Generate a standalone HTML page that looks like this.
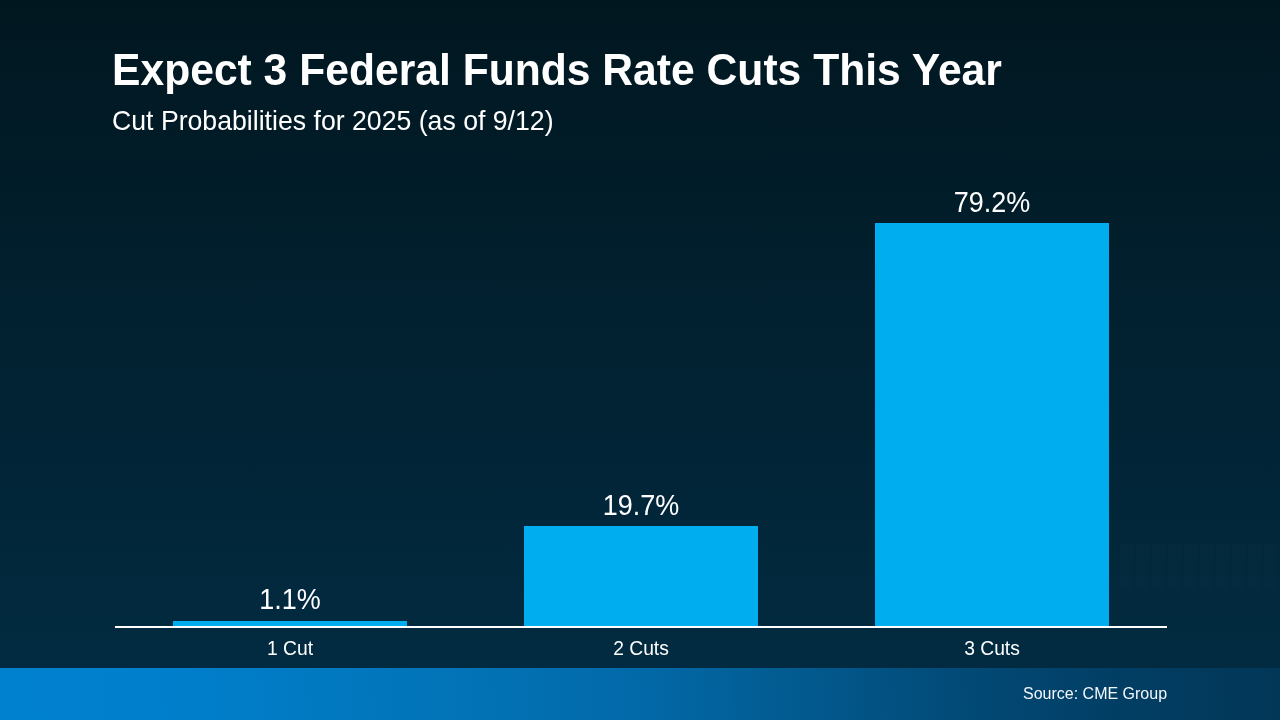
<!DOCTYPE html>
<html><head><meta charset="utf-8">
<style>
html,body{margin:0;padding:0;}
body{width:1280px;height:720px;overflow:hidden;position:relative;font-family:"Liberation Sans",sans-serif;color:#fff;
background:linear-gradient(180deg,rgb(1,23,32) 0px,rgb(2,43,65) 668px);}
.abs{position:absolute;white-space:nowrap;}
.abs,.val,.cat{will-change:transform;}
#title{left:112.2px;top:46px;font-size:42.63px;font-weight:bold;line-height:48px;transform-origin:0 39px;transform:scaleY(1.02);}
#sub{left:111.8px;top:105.6px;font-size:26.67px;line-height:30px;transform-origin:0 24px;transform:scaleY(1.02);}
.bar{position:absolute;background:#00aeef;}
#axis{position:absolute;left:115px;top:626px;width:1052px;height:2px;background:#fff;}
.val{position:absolute;width:234px;text-align:center;font-size:27px;line-height:30px;transform-origin:50% 24.5px;transform:scaleY(1.06);}
.cat{position:absolute;width:234px;text-align:center;font-size:19.3px;line-height:22px;transform-origin:50% 17px;transform:scaleY(1);}
#wm{position:absolute;left:1120px;top:544px;width:160px;height:45px;
background:repeating-linear-gradient(90deg,rgba(255,255,255,0.009) 0px,rgba(255,255,255,0.009) 13px,rgba(255,255,255,0) 13px,rgba(255,255,255,0) 16px);}
#footer{position:absolute;left:0;top:668px;width:1280px;height:52px;
background:linear-gradient(88deg,rgb(0,129,207) 0%,rgb(0,127,204) 12.5%,rgb(1,121,193) 25%,rgb(2,114,181) 37.5%,rgb(2,105,168) 50%,rgb(2,90,143) 62.5%,rgb(2,74,119) 75%,rgb(2,62,100) 87.5%,rgb(2,55,87) 100%);}
#src{right:112.5px;top:684px;font-size:16px;line-height:20px;color:#f2f8fc;}
</style></head><body>
<div id="title" class="abs">Expect 3 Federal Funds Rate Cuts This Year</div>
<div id="sub" class="abs">Cut Probabilities for 2025 (as of 9/12)</div>
<div id="wm"></div>
<div class="bar" style="left:173px;top:621px;width:234px;height:5px"></div>
<div class="bar" style="left:524px;top:526px;width:234px;height:100px"></div>
<div class="bar" style="left:875px;top:223px;width:234px;height:403px"></div>
<div id="axis"></div>
<div class="val" style="left:173px;top:585px">1.1%</div>
<div class="val" style="left:524px;top:491px">19.7%</div>
<div class="val" style="left:875px;top:188px">79.2%</div>
<div class="cat" style="left:173px;top:638px">1 Cut</div>
<div class="cat" style="left:524px;top:638px">2 Cuts</div>
<div class="cat" style="left:875px;top:638px">3 Cuts</div>
<div id="footer"></div>
<div id="src" class="abs">Source: CME Group</div>
</body></html>
